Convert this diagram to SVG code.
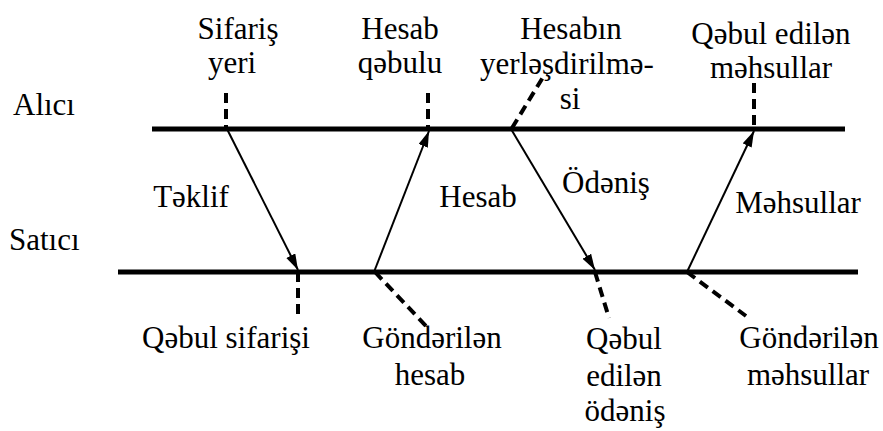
<svg xmlns="http://www.w3.org/2000/svg" width="883" height="431" viewBox="0 0 883 431">
<style>
.t{font-family:'Liberation Serif','Times New Roman',Times,Tinos,'Noto Serif','DejaVu Serif',FreeSerif,serif;font-size:31px;fill:#000}
.m{text-anchor:middle}
.lane{stroke:#000;stroke-width:5;fill:none}
.arr{stroke:#000;stroke-width:2;fill:none;marker-end:url(#ah)}
.dash{stroke:#000;stroke-width:4;fill:none;stroke-dasharray:10 6}
</style>
<defs>
<marker id="ah" markerUnits="userSpaceOnUse" markerWidth="18" markerHeight="12" refX="16" refY="5" orient="auto">
<path d="M0,0 L16,5 L0,10 z" fill="#000"/>
</marker>
</defs>
<rect width="883" height="431" fill="#fff"/>
<g id="lanes">
<line class="lane" x1="152" y1="129" x2="845" y2="129"/>
<line class="lane" x1="118" y1="272" x2="858" y2="272"/>
</g>
<g id="connectors">
<line class="arr" x1="227" y1="129" x2="298" y2="270"/>
<line class="arr" x1="374" y1="272" x2="429" y2="131"/>
<line class="arr" x1="511" y1="129" x2="595" y2="270"/>
<line class="arr" x1="687" y1="272" x2="754" y2="131"/>
<line class="dash" x1="226" y1="93" x2="226" y2="129"/>
<line class="dash" x1="428" y1="93" x2="428" y2="129"/>
<line class="dash" x1="512" y1="128" x2="545" y2="74"/>
<line class="dash" x1="754" y1="83" x2="754" y2="129"/>
<line class="dash" x1="298" y1="272" x2="298" y2="318"/>
<line class="dash" x1="375" y1="272" x2="427" y2="327"/>
<line class="dash" x1="595" y1="272" x2="609" y2="318"/>
<line class="dash" x1="687" y1="272" x2="746" y2="316"/>
</g>
<g class="t">
<g id="lane-alici"><text x="13" y="115">Alıcı</text></g>
<g id="lane-satici"><text x="9" y="250">Satıcı</text></g>
<g id="n-sifaris-yeri"><text class="m" x="238" y="39">Sifariş</text><text class="m" x="232" y="73">yeri</text></g>
<g id="n-hesab-qebulu"><text class="m" x="400" y="39">Hesab</text><text class="m" x="400" y="73">qəbulu</text></g>
<g id="n-hesabin"><text class="m" x="571" y="39">Hesabın</text><text class="m" x="567" y="74">yerləşdirilmə-</text><text class="m" x="570" y="109">si</text></g>
<g id="n-qebul-mehsullar"><text class="m" x="771" y="44">Qəbul edilən</text><text class="m" x="771" y="78">məhsullar</text></g>
<g id="e-teklif"><text class="m" x="191" y="207">Təklif</text></g>
<g id="e-hesab"><text class="m" x="478" y="207">Hesab</text></g>
<g id="e-odenis"><text class="m" x="606" y="193">Ödəniş</text></g>
<g id="e-mehsullar"><text class="m" x="798" y="213">Məhsullar</text></g>
<g id="n-qebul-sifarisi"><text class="m" x="226" y="348">Qəbul sifarişi</text></g>
<g id="n-gonderilen-hesab"><text class="m" x="432" y="348">Göndərilən</text><text class="m" x="430" y="385">hesab</text></g>
<g id="n-qebul-odenis"><text class="m" x="624" y="349">Qəbul</text><text class="m" x="624" y="386">edilən</text><text class="m" x="625" y="421">ödəniş</text></g>
<g id="n-gonderilen-mehsullar"><text class="m" x="809" y="348">Göndərilən</text><text class="m" x="808" y="385">məhsullar</text></g>
</g>
</svg>
